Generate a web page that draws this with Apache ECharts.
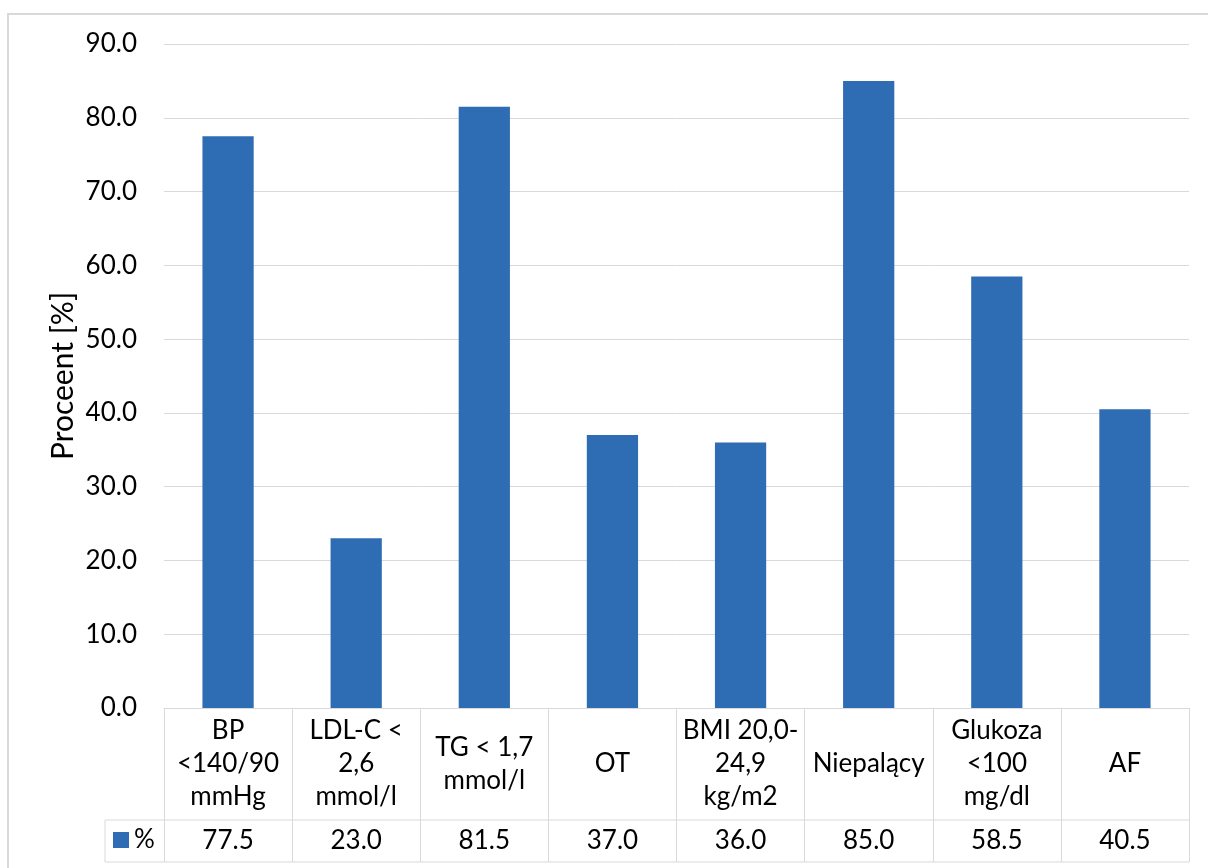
<!DOCTYPE html>
<html>
<head>
<meta charset="utf-8">
<script src="https://cdn.jsdelivr.net/npm/echarts@6/dist/echarts.min.js"></script>
<style>
  html, body { margin: 0; padding: 0; background: #fff; }
  #chart { width: 1208px; height: 868px; }
</style>
</head>
<body>
<div id="chart"></div>
<script>
// Share of patients reaching each target
const categories = [
  'BP\n<140/90\nmmHg',
  'LDL-C <\n2,6\nmmol/l',
  'TG < 1,7\nmmol/l',
  'OT',
  'BMI 20,0-\n24,9\nkg/m2',
  'Niepalący',
  'Glukoza\n<100\nmg/dl',
  'AF'
];
const values = [77.5, 23.0, 81.5, 37.0, 36.0, 85.0, 58.5, 40.5];
const seriesName = '%';
const yAxisTitle = 'Proceent [%]';
const yMin = 0, yMax = 90, yStep = 10;

const FONT = 'Lato, "Open Sans", sans-serif';
const FS = 26;
const GRID_COLOR = '#D9D9D9';
const TEXT_COLOR = '#000000';
const BAR_COLOR = '#2E6DB4';

// plot area and data-table geometry
const W = 1208, H = 868;
const plotLeft = 164, plotRight = 1189, plotTop = 44, plotBottom = 708;
const rowSplit = 820, tableBottom = 862, keyLeft = 105;

const chart = echarts.init(document.getElementById('chart'), null, { renderer: 'canvas' });

chart.setOption({
  animation: false,
  backgroundColor: '#ffffff',
  textStyle: { fontFamily: FONT, color: TEXT_COLOR },
  grid: {
    left: plotLeft,
    right: W - plotRight,
    top: plotTop,
    bottom: H - plotBottom,
    containLabel: false
  },
  legend: {
    data: [seriesName],
    icon: 'rect',
    itemWidth: 16,
    itemHeight: 16,
    left: 113,
    top: 827,
    padding: 0,
    textStyle: { fontFamily: FONT, fontSize: FS, color: TEXT_COLOR }
  },
  xAxis: [
    {
      type: 'category',
      data: categories,
      axisLine: { show: true, lineStyle: { color: GRID_COLOR, width: 1 } },
      axisTick: {
        show: true,
        interval: 0,
        length: tableBottom - plotBottom,
        lineStyle: { color: GRID_COLOR, width: 1 }
      },
      axisLabel: {
        interval: 0,
        margin: (rowSplit - plotBottom) / 2,
        verticalAlign: 'middle',
        align: 'center',
        lineHeight: 33,
        fontFamily: FONT,
        fontSize: FS,
        color: TEXT_COLOR
      }
    },
    {
      // value row of the data table
      type: 'category',
      position: 'bottom',
      data: values.map(v => v.toFixed(1)),
      axisLine: { show: false },
      axisTick: { show: false },
      axisLabel: {
        interval: 0,
        margin: (rowSplit + tableBottom) / 2 - plotBottom,
        verticalAlign: 'middle',
        align: 'center',
        fontFamily: FONT,
        fontSize: FS,
        color: TEXT_COLOR
      }
    }
  ],
  yAxis: {
    type: 'value',
    min: yMin,
    max: yMax,
    interval: yStep,
    name: yAxisTitle,
    nameLocation: 'middle',
    nameGap: 86,
    nameMoveOverlap: false,
    nameTextStyle: { fontFamily: FONT, fontSize: 30, color: TEXT_COLOR },
    axisLine: { show: false },
    axisTick: { show: false },
    axisLabel: {
      margin: 27,
      fontFamily: FONT,
      fontSize: FS,
      color: TEXT_COLOR,
      formatter: v => v.toFixed(1)
    },
    splitLine: { show: true, lineStyle: { color: GRID_COLOR, width: 1 } }
  },
  series: [
    {
      name: seriesName,
      type: 'bar',
      xAxisIndex: 0,
      data: values,
      barWidth: '40%',
      itemStyle: { color: BAR_COLOR }
    }
  ],
  graphic: [
    // chart frame
    {
      type: 'rect',
      shape: { x: 8, y: 14, width: 1400, height: 1000 },
      style: { fill: 'none', stroke: GRID_COLOR, lineWidth: 2 },
      silent: true
    },
    // data table rules
    {
      type: 'line',
      shape: { x1: keyLeft, y1: rowSplit, x2: plotRight, y2: rowSplit },
      style: { stroke: GRID_COLOR, lineWidth: 1 },
      silent: true
    },
    {
      type: 'line',
      shape: { x1: keyLeft, y1: tableBottom, x2: plotRight, y2: tableBottom },
      style: { stroke: GRID_COLOR, lineWidth: 1 },
      silent: true
    },
    {
      type: 'line',
      shape: { x1: keyLeft, y1: rowSplit, x2: keyLeft, y2: tableBottom },
      style: { stroke: GRID_COLOR, lineWidth: 1 },
      silent: true
    }
  ]
});
</script>
</body>
</html>
